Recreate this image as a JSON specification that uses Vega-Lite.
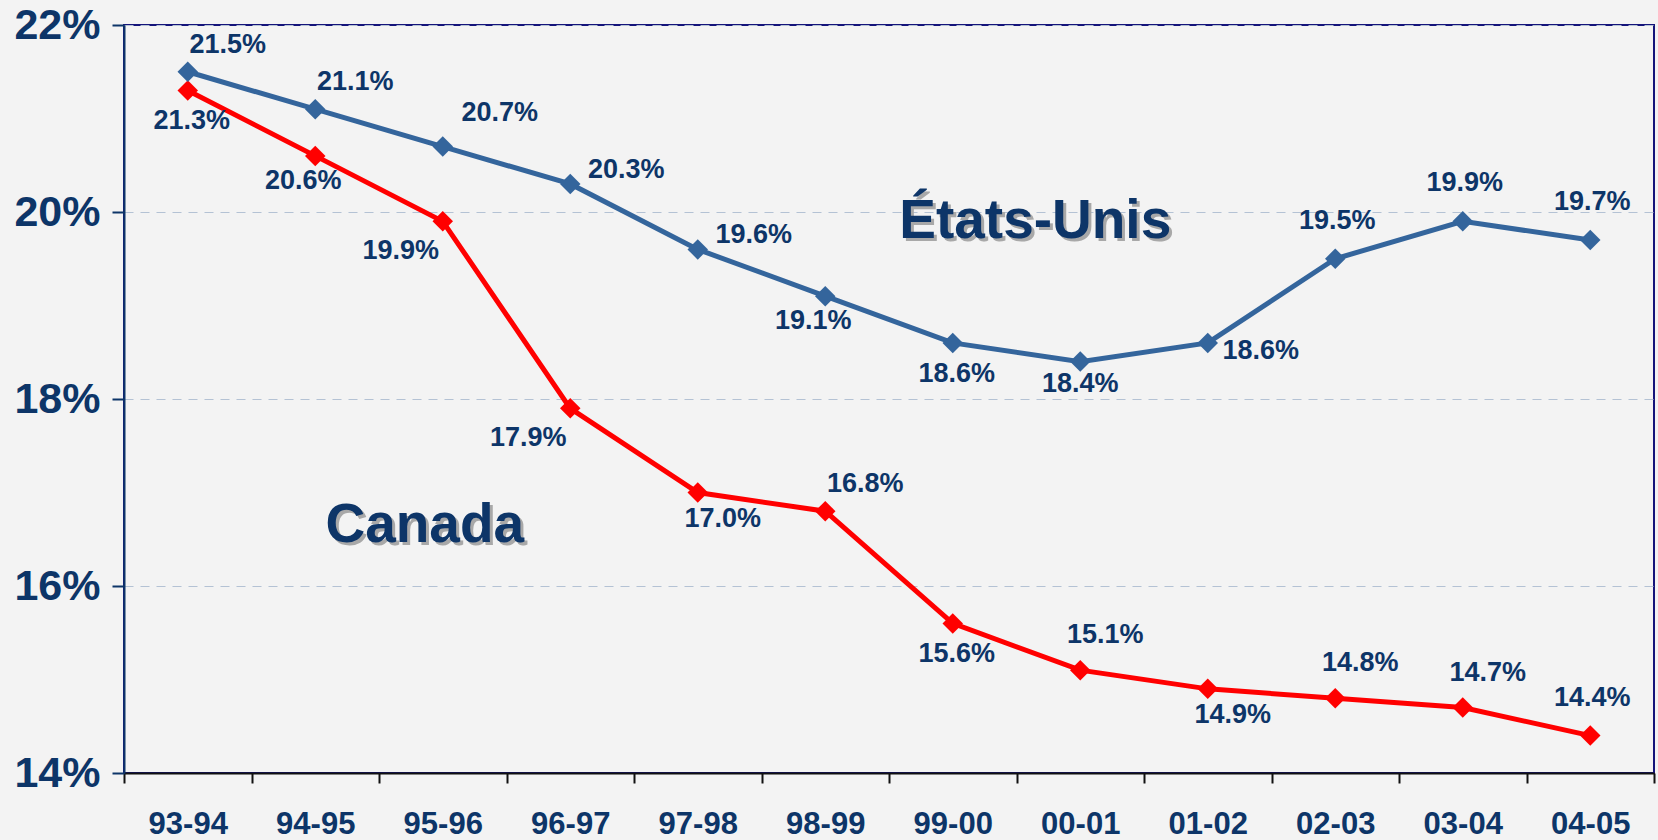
{
  "$schema": "https://vega.github.io/schema/vega-lite/v6.json",
  "width": 1530,
  "height": 748,
  "autosize": {"type": "none"},
  "padding": {"left": 124, "top": 25, "right": 4, "bottom": 67},
  "background": "#f3f3f3",
  "config": {
    "view": {"stroke": "#14147a", "strokeWidth": 2, "fill": null},
    "font": "Liberation Sans",
    "text": {"font": "Liberation Sans", "fontSize": 27, "fontWeight": "bold", "align": "center", "baseline": "middle"}
  },
  "datasets": {
    "pts": [
      {"s": "Canada", "cat": "93-94", "v": 21.3, "lab": "21.3%", "pos": "s"},
      {"s": "Canada", "cat": "94-95", "v": 20.6, "lab": "20.6%", "pos": "ssw"},
      {"s": "Canada", "cat": "95-96", "v": 19.9, "lab": "19.9%", "pos": "sw"},
      {"s": "Canada", "cat": "96-97", "v": 17.9, "lab": "17.9%", "pos": "sw"},
      {"s": "Canada", "cat": "97-98", "v": 17.0, "lab": "17.0%", "pos": "sse"},
      {"s": "Canada", "cat": "98-99", "v": 16.8, "lab": "16.8%", "pos": "ne"},
      {"s": "Canada", "cat": "99-00", "v": 15.6, "lab": "15.6%", "pos": "s"},
      {"s": "Canada", "cat": "00-01", "v": 15.1, "lab": "15.1%", "pos": "nne"},
      {"s": "Canada", "cat": "01-02", "v": 14.9, "lab": "14.9%", "pos": "sse"},
      {"s": "Canada", "cat": "02-03", "v": 14.8, "lab": "14.8%", "pos": "nne"},
      {"s": "Canada", "cat": "03-04", "v": 14.7, "lab": "14.7%", "pos": "nne"},
      {"s": "Canada", "cat": "04-05", "v": 14.4, "lab": "14.4%", "pos": "n"},
      {"s": "US", "cat": "93-94", "v": 21.5, "lab": "21.5%", "pos": "ne"},
      {"s": "US", "cat": "94-95", "v": 21.1, "lab": "21.1%", "pos": "ne"},
      {"s": "US", "cat": "95-96", "v": 20.7, "lab": "20.7%", "pos": "ene"},
      {"s": "US", "cat": "96-97", "v": 20.3, "lab": "20.3%", "pos": "e"},
      {"s": "US", "cat": "97-98", "v": 19.6, "lab": "19.6%", "pos": "e"},
      {"s": "US", "cat": "98-99", "v": 19.1, "lab": "19.1%", "pos": "ssw"},
      {"s": "US", "cat": "99-00", "v": 18.6, "lab": "18.6%", "pos": "s"},
      {"s": "US", "cat": "00-01", "v": 18.4, "lab": "18.4%", "pos": "snear"},
      {"s": "US", "cat": "01-02", "v": 18.6, "lab": "18.6%", "pos": "ese"},
      {"s": "US", "cat": "02-03", "v": 19.5, "lab": "19.5%", "pos": "n"},
      {"s": "US", "cat": "03-04", "v": 19.9, "lab": "19.9%", "pos": "n"},
      {"s": "US", "cat": "04-05", "v": 19.7, "lab": "19.7%", "pos": "n"}
    ],
    "names": [
      {"name": "États-Unis", "cat": "00-01", "v": 19.72},
      {"name": "Canada", "cat": "95-96", "v": 16.47}
    ]
  },
  "data": {"name": "pts"},
  "encoding": {
    "x": {
      "field": "cat",
      "type": "ordinal",
      "sort": null,
      "scale": {"type": "band", "paddingInner": 0, "paddingOuter": 0, "domain": ["93-94","94-95","95-96","96-97","97-98","98-99","99-00","00-01","01-02","02-03","03-04","04-05"]},
      "axis": {
        "title": null,
        "labelAngle": 0,
        "tickBand": "extent",
        "tickSize": 10,
        "tickWidth": 2,
        "tickColor": "#111111",
        "domainColor": "#111111",
        "domainWidth": 2,
        "labelFont": "Liberation Sans",
        "labelFontSize": 31,
        "labelFontWeight": "bold",
        "labelColor": "#0d3568",
        "labelPadding": 26,
        "grid": false
      }
    },
    "y": {
      "field": "v",
      "type": "quantitative",
      "scale": {"domain": [14, 22], "nice": false, "zero": false},
      "axis": {
        "title": null,
        "values": [14, 16, 18, 20, 22],
        "labelExpr": "datum.value + '%'",
        "labelFont": "Liberation Sans",
        "labelFontSize": 43,
        "labelFontWeight": "bold",
        "labelColor": "#0d3568",
        "labelPadding": 12,
        "tickSize": 12,
        "tickWidth": 2,
        "tickColor": "#0d3568",
        "domainColor": "#0d3568",
        "domainWidth": 2,
        "grid": true,
        "gridDash": [9, 7],
        "gridColor": "#b4c2d4",
        "gridWidth": 1.2
      }
    }
  },
  "layer": [
    {"mark": {"type": "line", "strokeWidth": 5}, "encoding": {"color": {"field": "s", "type": "nominal", "scale": {"domain": ["Canada", "US"], "range": ["#ff0000", "#34659c"]}, "legend": null}}},
    {"mark": {"type": "point", "shape": "diamond", "filled": true, "size": 420, "opacity": 1}, "encoding": {"color": {"field": "s", "type": "nominal", "legend": null}}},
    {"transform": [{"filter": "datum.pos == 'ne'"}], "mark": {"type": "text", "dx": 40, "dy": -27}, "encoding": {"text": {"field": "lab"}, "color": {"value": "#0d3568"}}},
    {"transform": [{"filter": "datum.pos == 'ene'"}], "mark": {"type": "text", "dx": 57, "dy": -34}, "encoding": {"text": {"field": "lab"}, "color": {"value": "#0d3568"}}},
    {"transform": [{"filter": "datum.pos == 'e'"}], "mark": {"type": "text", "dx": 56, "dy": -14}, "encoding": {"text": {"field": "lab"}, "color": {"value": "#0d3568"}}},
    {"transform": [{"filter": "datum.pos == 'ese'"}], "mark": {"type": "text", "dx": 53, "dy": 8}, "encoding": {"text": {"field": "lab"}, "color": {"value": "#0d3568"}}},
    {"transform": [{"filter": "datum.pos == 's'"}], "mark": {"type": "text", "dx": 4, "dy": 31}, "encoding": {"text": {"field": "lab"}, "color": {"value": "#0d3568"}}},
    {"transform": [{"filter": "datum.pos == 'snear'"}], "mark": {"type": "text", "dx": 0, "dy": 22}, "encoding": {"text": {"field": "lab"}, "color": {"value": "#0d3568"}}},
    {"transform": [{"filter": "datum.pos == 'ssw'"}], "mark": {"type": "text", "dx": -12, "dy": 25}, "encoding": {"text": {"field": "lab"}, "color": {"value": "#0d3568"}}},
    {"transform": [{"filter": "datum.pos == 'n'"}], "mark": {"type": "text", "dx": 2, "dy": -38}, "encoding": {"text": {"field": "lab"}, "color": {"value": "#0d3568"}}},
    {"transform": [{"filter": "datum.pos == 'nne'"}], "mark": {"type": "text", "dx": 25, "dy": -35}, "encoding": {"text": {"field": "lab"}, "color": {"value": "#0d3568"}}},
    {"transform": [{"filter": "datum.pos == 'sse'"}], "mark": {"type": "text", "dx": 25, "dy": 26}, "encoding": {"text": {"field": "lab"}, "color": {"value": "#0d3568"}}},
    {"transform": [{"filter": "datum.pos == 'sw'"}], "mark": {"type": "text", "dx": -42, "dy": 30}, "encoding": {"text": {"field": "lab"}, "color": {"value": "#0d3568"}}},
    {"data": {"name": "names"}, "transform": [{"filter": "datum.name == 'États-Unis'"}], "mark": {"type": "text", "dx": -42, "dy": 3, "fontSize": 55, "baseline": "alphabetic"}, "encoding": {"text": {"field": "name"}, "color": {"value": "#a8a8a8"}}},
    {"data": {"name": "names"}, "transform": [{"filter": "datum.name == 'États-Unis'"}], "mark": {"type": "text", "dx": -45, "dy": 0, "fontSize": 55, "baseline": "alphabetic"}, "encoding": {"text": {"field": "name"}, "color": {"value": "#0d3568"}}},
    {"data": {"name": "names"}, "transform": [{"filter": "datum.name == 'Canada'"}], "mark": {"type": "text", "dx": -15, "dy": 3, "fontSize": 55, "baseline": "alphabetic"}, "encoding": {"text": {"field": "name"}, "color": {"value": "#a8a8a8"}}},
    {"data": {"name": "names"}, "transform": [{"filter": "datum.name == 'Canada'"}], "mark": {"type": "text", "dx": -18, "dy": 0, "fontSize": 55, "baseline": "alphabetic"}, "encoding": {"text": {"field": "name"}, "color": {"value": "#0d3568"}}}
  ]
}
